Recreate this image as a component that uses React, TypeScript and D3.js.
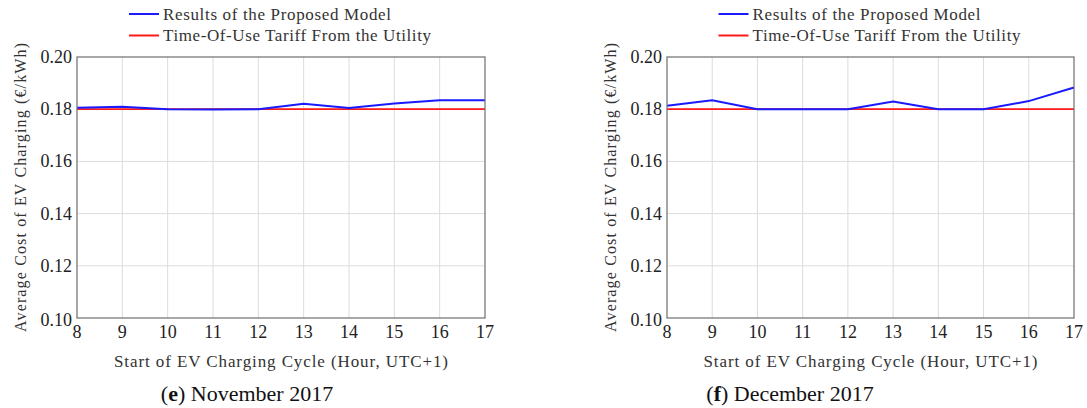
import React from "react";
import * as d3 from "d3";

const hours = [8, 9, 10, 11, 12, 13, 14, 15, 16, 17];
const yTicks = [0.1, 0.12, 0.14, 0.16, 0.18, 0.2];
const novModel = [0.1806, 0.1809, 0.18, 0.1799, 0.18, 0.1821, 0.1805, 0.1822, 0.1834, 0.1834];
const novTariff = [0.18, 0.18, 0.18, 0.18, 0.18, 0.18, 0.18, 0.18, 0.18, 0.18];
const decModel = [0.1813, 0.1834, 0.18, 0.18, 0.18, 0.1829, 0.18, 0.18, 0.1831, 0.1883];
const decTariff = [0.18, 0.18, 0.18, 0.18, 0.18, 0.18, 0.18, 0.18, 0.18, 0.18];
const legendLabels = ["Results of the Proposed Model", "Time-Of-Use Tariff From the Utility"];
const xTitle = "Start of EV Charging Cycle (Hour, UTC+1)";
const yTitle = "Average Cost of EV Charging (€/kWh)";
const captions = [
  { letter: "e", text: " November 2017" },
  { letter: "f", text: " December 2017" },
];

const FONT = "'Liberation Serif', 'Times New Roman', Times, serif";
const CAP_FONT = FONT;

type PanelProps = {
  x0: number;
  x1: number;
  capCx: number;
  model: number[];
  tariff: number[];
  caption: { letter: string; text: string };
};

function Panel({ x0, x1, capCx, model, tariff, caption }: PanelProps) {
  const yTop = 57;
  const yBot = 318;
  const x = d3.scaleLinear().domain([8, 17]).range([x0, x1]);
  const y = d3.scaleLinear().domain([0.1, 0.2]).range([yBot, yTop]);
  const line = d3
    .line<number>()
    .x((_, i) => x(hours[i]))
    .y((d) => y(d));
  const cx = (x0 + x1) / 2;
  const yMid = (yTop + yBot) / 2;
  return (
    <g>
      {hours.slice(1, -1).map((h) => (
        <line key={"gx" + h} x1={x(h)} x2={x(h)} y1={yTop} y2={yBot} stroke="#dcdcdc" strokeWidth={1} />
      ))}
      {yTicks.slice(1, -1).map((t) => (
        <line key={"gy" + t} x1={x0} x2={x1} y1={y(t)} y2={y(t)} stroke="#dcdcdc" strokeWidth={1} />
      ))}
      <path d={line(tariff) || ""} fill="none" stroke="#ff1a1a" strokeWidth={1.8} />
      <path d={line(model) || ""} fill="none" stroke="#1a1aff" strokeWidth={2} />
      <rect x={x0} y={yTop} width={x1 - x0} height={yBot - yTop} fill="none" stroke="#6e6e6e" strokeWidth={1.2} />
      {yTicks.map((t) => (
        <text
          key={"yt" + t}
          x={x0 - 5}
          y={t === 0.1 ? y(t) + 2 : y(t)}
          textAnchor="end"
          dominantBaseline="central"
          fontFamily={FONT}
          fontSize={18}
          fill="#222"
        >
          {d3.format(".2f")(t)}
        </text>
      ))}
      {hours.map((h) => (
        <text
          key={"xt" + h}
          x={x(h)}
          y={332}
          textAnchor="middle"
          dominantBaseline="central"
          fontFamily={FONT}
          fontSize={18}
          fill="#222"
        >
          {h}
        </text>
      ))}
      <text
        x={cx}
        y={361}
        textAnchor="middle"
        dominantBaseline="central"
        fontFamily={FONT}
        fontSize={17}
        fill="#333"
        textLength={334}
      >
        {xTitle}
      </text>
      <text
        transform={`translate(${x0 - 57},${yMid}) rotate(-90)`}
        textAnchor="middle"
        dominantBaseline="central"
        fontFamily={FONT}
        fontSize={16}
        fill="#333"
        textLength={289}
      >
        {yTitle}
      </text>
      {legendLabels.map((lab, i) => (
        <g key={lab}>
          <line
            x1={cx - 152}
            x2={cx - 122}
            y1={14 + i * 21.5}
            y2={14 + i * 21.5}
            stroke={i === 0 ? "#1a1aff" : "#ff1a1a"}
            strokeWidth={2}
          />
          <text
            x={cx - 118}
            y={14 + i * 21.5}
            dominantBaseline="central"
            fontFamily={FONT}
            fontSize={17}
            fill="#333"
            textLength={i === 0 ? 228 : 268}
          >
            {lab}
          </text>
        </g>
      ))}
      <text
        x={capCx}
        y={393}
        textAnchor="middle"
        dominantBaseline="central"
        fontFamily={CAP_FONT}
        fontSize={22}
        fill="#111"
      >
        <tspan>(</tspan>
        <tspan fontWeight="bold">{caption.letter}</tspan>
        <tspan>)</tspan>
        <tspan>{caption.text}</tspan>
      </text>
    </g>
  );
}

export default function App() {
  return (
    <svg width={1087} height={408} style={{ position: "absolute", left: 0, top: 0, background: "#fff" }}>
      <rect width={1087} height={408} fill="#fff" />
      <Panel x0={77} x1={485} capCx={247} model={novModel} tariff={novTariff} caption={captions[0]} />
      <Panel x0={667} x1={1074} capCx={790} model={decModel} tariff={decTariff} caption={captions[1]} />
    </svg>
  );
}
